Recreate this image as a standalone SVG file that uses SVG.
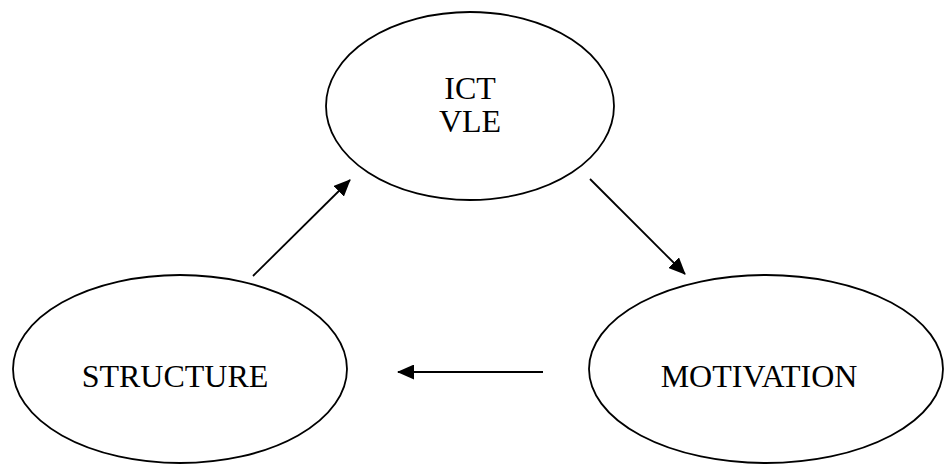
<svg xmlns="http://www.w3.org/2000/svg" width="944" height="464" viewBox="0 0 944 464">
<style>
.node ellipse{fill:#fff;stroke:#000;stroke-width:1.8}
.node text{font-family:"Liberation Serif","Times New Roman",serif;font-size:32px;fill:#000;text-anchor:middle}
.edge{stroke:#000;stroke-width:1.8;fill:none;marker-end:url(#arr)}
</style>
<defs>
<marker id="arr" viewBox="0 0 17 15" refX="16" refY="7.5" markerWidth="17" markerHeight="15" markerUnits="userSpaceOnUse" orient="auto">
<path d="M0,0 L17,7.5 L0,15 z" fill="#000"/>
</marker>
</defs>
<rect width="944" height="464" fill="#fff"/>
<g id="ict" class="node">
<ellipse cx="470" cy="106" rx="144" ry="94"/>
<text x="470" y="99">ICT</text>
<text x="470" y="132">VLE</text>
</g>
<g id="structure" class="node">
<ellipse cx="180" cy="369" rx="167" ry="94"/>
<text x="175" y="387">STRUCTURE</text>
</g>
<g id="motivation" class="node">
<ellipse cx="766" cy="369" rx="177" ry="94"/>
<text x="759" y="387">MOTIVATION</text>
</g>
<g id="connectors">
<line class="edge" x1="253" y1="276" x2="350" y2="180"/>
<line class="edge" x1="590" y1="179" x2="685" y2="274"/>
<line class="edge" x1="543" y1="372" x2="398" y2="372"/>
</g>
</svg>
